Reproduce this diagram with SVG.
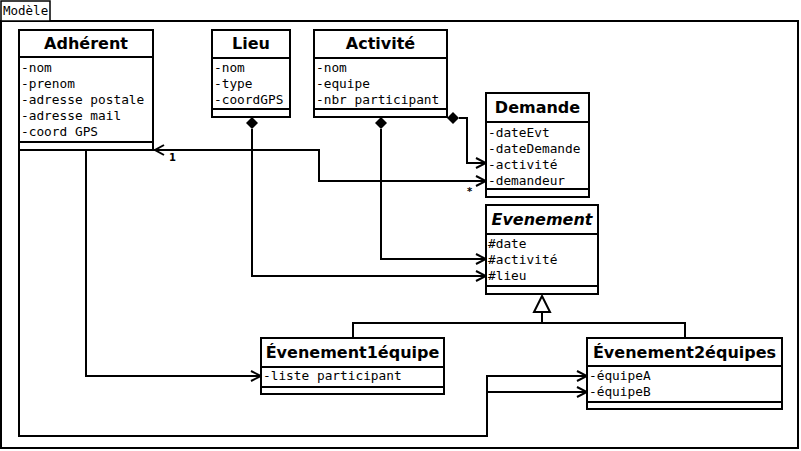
<svg xmlns="http://www.w3.org/2000/svg" width="801" height="451" viewBox="0 0 801 451">
<style>
.box{fill:#fff;stroke:#000;stroke-width:2}
.sep{stroke:#000;stroke-width:2}
.hd{font-family:"DejaVu Sans",sans-serif;font-weight:bold;font-size:16px;text-anchor:middle;fill:#000}
.at{font-family:"DejaVu Sans Mono",monospace;font-size:12.8px;fill:#000}
.ln{fill:none;stroke:#000;stroke-width:2}
.lbl{font-family:"DejaVu Sans",sans-serif;font-weight:bold;font-size:10px;fill:#000}
</style>
<defs>
<marker id="open" viewBox="0 0 12 12" refX="11" refY="6" markerWidth="12" markerHeight="12" markerUnits="userSpaceOnUse" orient="auto">
<path d="M1,1 L11,6 L1,11" fill="none" stroke="#000" stroke-width="2"/>
</marker>
</defs>
<rect width="801" height="451" fill="#fff"/>
<g id="frame">
<rect x="1" y="21" width="797" height="427" fill="none" stroke="#000" stroke-width="2"/>
<rect x="1" y="1" width="49" height="20" fill="#fff" stroke="#000" stroke-width="1.5"/>
<text x="3" y="15" font-family="DejaVu Sans Mono, monospace" font-size="12.5px">Modèle</text>
</g>
<g id="connectors">
<path class="ln" d="M154,150 L319,150 L319,181 L486,181" marker-end="url(#open)"/>
<path class="ln" d="M252,129 L252,276 L486,276" marker-end="url(#open)"/>
<path class="ln" d="M381,129 L381,259 L486,259" marker-end="url(#open)"/>
<path class="ln" d="M459,118 L467,118 L467,163 L486,163" marker-end="url(#open)"/>
<path class="ln" d="M86,150 L86,376 L261,376" marker-end="url(#open)"/>
<path class="ln" d="M19,150 L19,436 L487,436 L487,376 L587,376" marker-end="url(#open)"/>
<path class="ln" d="M487,392 L587,392" marker-end="url(#open)"/>
<path class="ln" d="M542,312 L542,323 M353,338 L353,323 L685,323 L685,338"/>
<polygon points="542,296 550,312 534,312" fill="#fff" stroke="#000" stroke-width="2"/>
<polygon points="252,117 258,123 252,129 246,123" fill="#000"/>
<polygon points="381,117 387,123 381,129 375,123" fill="#000"/>
<polygon points="447,118 453,112 459,118 453,124" fill="#000"/>
<path d="M164,145 L155,150 L164,155" fill="none" stroke="#000" stroke-width="2"/>
<text class="lbl" x="169" y="161">1</text>
<text class="lbl" x="467" y="195">*</text>
</g>
<g id="adherent">
<rect class="box" x="19" y="30" width="134" height="120"/>
<line class="sep" x1="19" y1="57" x2="153" y2="57"/>
<line class="sep" x1="19" y1="142" x2="153" y2="142"/>
<text class="hd" x="86" y="49">Adhérent</text>
<text class="at" x="21" y="72">-nom</text>
<text class="at" x="21" y="88">-prenom</text>
<text class="at" x="21" y="104">-adresse postale</text>
<text class="at" x="21" y="120">-adresse mail</text>
<text class="at" x="21" y="136">-coord GPS</text>
</g>
<g id="lieu">
<rect class="box" x="212" y="30" width="78" height="87"/>
<line class="sep" x1="212" y1="58" x2="290" y2="58"/>
<line class="sep" x1="212" y1="109" x2="290" y2="109"/>
<text class="hd" x="251" y="49">Lieu</text>
<text class="at" x="214" y="72">-nom</text>
<text class="at" x="214" y="88">-type</text>
<text class="at" x="214" y="104">-coordGPS</text>
</g>
<g id="activite">
<rect class="box" x="314" y="30" width="133" height="87"/>
<line class="sep" x1="314" y1="58" x2="447" y2="58"/>
<line class="sep" x1="314" y1="109" x2="447" y2="109"/>
<text class="hd" x="380.5" y="49">Activité</text>
<text class="at" x="316" y="72">-nom</text>
<text class="at" x="316" y="88">-equipe</text>
<text class="at" x="316" y="104">-nbr participant</text>
</g>
<g id="demande">
<rect class="box" x="486" y="93" width="103" height="104"/>
<line class="sep" x1="486" y1="122" x2="589" y2="122"/>
<line class="sep" x1="486" y1="189" x2="589" y2="189"/>
<text class="hd" x="537.5" y="113">Demande</text>
<text class="at" x="488" y="137">-dateEvt</text>
<text class="at" x="488" y="153">-dateDemande</text>
<text class="at" x="488" y="169">-activité</text>
<text class="at" x="488" y="185">-demandeur</text>
</g>
<g id="evenement">
<rect class="box" x="486" y="205" width="112" height="89"/>
<line class="sep" x1="486" y1="234" x2="598" y2="234"/>
<line class="sep" x1="486" y1="286" x2="598" y2="286"/>
<text class="hd" x="542" y="225" font-style="italic">Evenement</text>
<text class="at" x="488" y="248">#date</text>
<text class="at" x="488" y="264">#activité</text>
<text class="at" x="488" y="280">#lieu</text>
</g>
<g id="evenement1equipe">
<rect class="box" x="261" y="338" width="183" height="56"/>
<line class="sep" x1="261" y1="367" x2="444" y2="367"/>
<line class="sep" x1="261" y1="387" x2="444" y2="387"/>
<text class="hd" x="352.5" y="358">Évenement1équipe</text>
<text class="at" x="263" y="380">-liste participant</text>
</g>
<g id="evenement2equipes">
<rect class="box" x="587" y="338" width="195" height="71"/>
<line class="sep" x1="587" y1="366" x2="782" y2="366"/>
<line class="sep" x1="587" y1="402" x2="782" y2="402"/>
<text class="hd" x="684.5" y="358">Évenement2équipes</text>
<text class="at" x="589" y="380">-équipeA</text>
<text class="at" x="589" y="396">-équipeB</text>
</g>
</svg>
